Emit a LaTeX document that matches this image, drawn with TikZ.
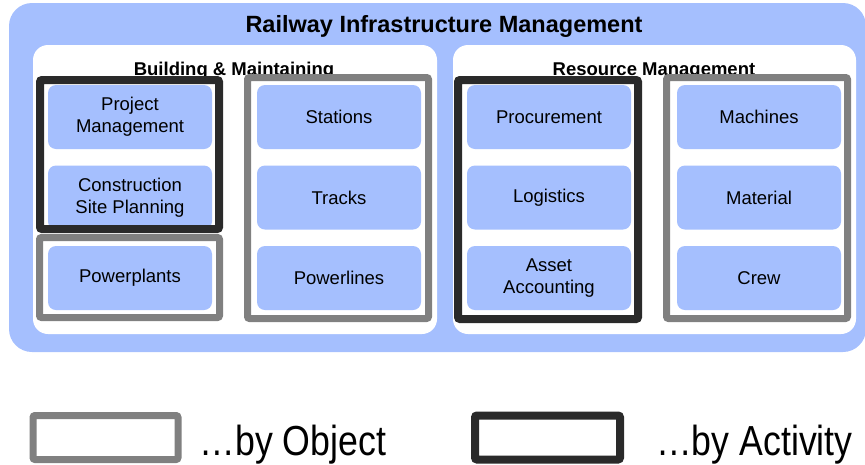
\documentclass[tikz,border=0pt]{standalone}
\usepackage{fontspec}
\setmainfont{Liberation Sans}
\newfontfamily\keyfont[FakeStretch=0.85]{Liberation Sans}
\usepackage{tikz}
\usetikzlibrary{positioning}
\definecolor{itemblue}{HTML}{A5BFFE}
\definecolor{objgray}{HTML}{808080}
\definecolor{actblack}{HTML}{2A2A2A}
\tikzset{
  item/.style={fill=itemblue, rounded corners=8pt, minimum width=164pt,
    minimum height=64pt, inner sep=0pt, align=center,
    font=\fontsize{18.5}{22}\selectfont},
  heading/.style={anchor=base, inner sep=0pt, font=\fontsize{18.5}{22}\selectfont\bfseries},
  keybox/.style={fill=white, rounded corners=2pt, minimum width=145pt, minimum height=44pt},
  keytext/.style={anchor=base west, inner sep=0pt, font=\fontsize{42}{48}\keyfont}
}

\begin{document}
\begin{tikzpicture}[x=1pt,y=-1pt]
  \useasboundingbox (0,0) rectangle (865,464);
  \clip (0,0) rectangle (865,464);
  % outer block and the two areas
  \fill[itemblue, rounded corners=23pt] (9,3) rectangle (866,352);
  \node[anchor=base, inner sep=0pt, font=\fontsize{23.5}{28}\selectfont\bfseries] (title) at (444,32) {Railway Infrastructure Management};
  \fill[white, rounded corners=15pt] (33,45) rectangle (437,334);
  \fill[white, rounded corners=15pt] (453,45) rectangle (856,334);
  \node[heading] (build) at (234,75) {Building \& Maintaining};
  \node[heading] (res) at (654,75) {Resource Management};

  % frames: white inside
  \foreach \xa/\ya/\xb/\yb in {40/80/219/229, 458/80/638/319, 39.5/237.5/219.5/317.5,
      247.5/77.5/428.5/318.5, 666.5/77.5/847.5/318.5}
    \fill[white] (\xa,\ya) rectangle (\xb,\yb);

  % columns of items
  \foreach \name/\txt [count=\i] in {pm/{Project\\Management}, csp/{Construction\\Site Planning}, pp/Powerplants}
    \node[item] (\name) at (130,{117+80.5*(\i-1)}) {\txt};
  \foreach \name/\txt [count=\i] in {st/Stations, tr/Tracks, pl/Powerlines}
    \node[item] (\name) at (339,{117+80.5*(\i-1)}) {\txt};
  \foreach \name/\txt [count=\i] in {pc/Procurement, lg/Logistics, aa/{Asset\\Accounting}}
    \node[item] (\name) at (549,{117+80.5*(\i-1)}) {\txt};
  \foreach \name/\txt [count=\i] in {ma/Machines, mt/Material, cr/Crew}
    \node[item] (\name) at (759,{117+80.5*(\i-1)}) {\txt};

  % frames: outlines on top
  \foreach \xa/\ya/\xb/\yb in {40/80/219/229, 458/80/638/319}
    \draw[actblack, line width=8pt, rounded corners=2pt] (\xa,\ya) rectangle (\xb,\yb);
  \foreach \xa/\ya/\xb/\yb in {39.5/237.5/219.5/317.5, 247.5/77.5/428.5/318.5, 666.5/77.5/847.5/318.5}
    \draw[objgray, line width=7pt, rounded corners=2pt] (\xa,\ya) rectangle (\xb,\yb);

  % legend
  \node[keybox, draw=objgray, line width=7pt] (objkey) at (105.5,437.5) {};
  \node[keytext] (objtxt) at ([xshift=18pt,yshift=-17.5pt]objkey.east) {\ldots by Object};
  \node[keybox, draw=actblack, line width=8pt] (actkey) at (547.5,437.5) {};
  \node[keytext] (acttxt) at ([xshift=32pt,yshift=-17.5pt]actkey.east) {\ldots by Activity};
\end{tikzpicture}
\end{document}
